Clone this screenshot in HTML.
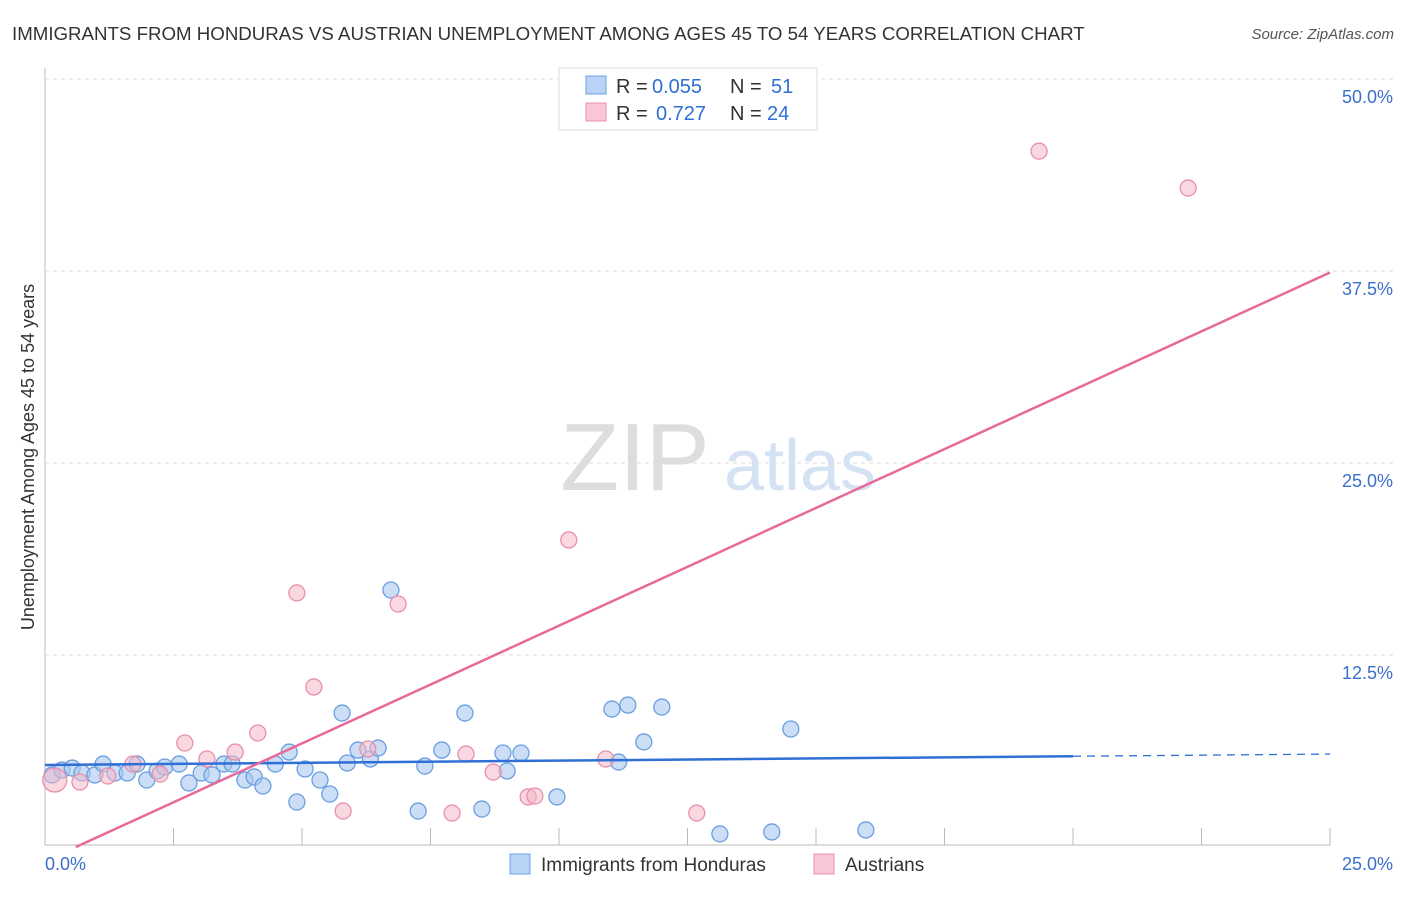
<!DOCTYPE html>
<html><head><meta charset="utf-8"><style>
body{margin:0;background:#fff;font-family:"Liberation Sans",sans-serif;}
svg text{font-family:"Liberation Sans",sans-serif;}
</style></head><body>
<svg id="chart" width="1406" height="892" xmlns="http://www.w3.org/2000/svg">
<text x="12" y="40" font-size="18.7" fill="#333">IMMIGRANTS FROM HONDURAS VS AUSTRIAN UNEMPLOYMENT AMONG AGES 45 TO 54 YEARS CORRELATION CHART</text>
<text x="1394" y="39" font-size="15" fill="#555" font-style="italic" text-anchor="end">Source: ZipAtlas.com</text>
<g id="grid"></g>
<text x="635" y="490" font-size="96" fill="#ddd" font-family="Liberation Serif" text-anchor="middle">ZIP</text>
<text x="800" y="490" font-size="72" fill="#d4e2f4" text-anchor="middle">atlas</text>
<text transform="translate(34,457) rotate(-90)" font-size="18" fill="#333" text-anchor="middle">Unemployment Among Ages 45 to 54 years</text>
<g id="marks"></g>
<g>
<rect x="559" y="68" width="258" height="62" fill="#fff" stroke="#ddd"/>
<rect x="586" y="76" width="20" height="18" fill="#b8d3f5" stroke="#6a9fe0"/>
<text x="616" y="93" font-size="20" fill="#333">R =</text>
<text x="652" y="93" font-size="20" fill="#2f6fd6">0.055</text>
<text x="730" y="93" font-size="20" fill="#333">N =</text>
<text x="771" y="93" font-size="20" fill="#2f6fd6">51</text>
<rect x="586" y="103" width="20" height="18" fill="#f9c6d5" stroke="#e890a8"/>
<text x="616" y="120" font-size="20" fill="#333">R =</text>
<text x="656" y="120" font-size="20" fill="#2f6fd6">0.727</text>
<text x="730" y="120" font-size="20" fill="#333">N =</text>
<text x="767" y="120" font-size="20" fill="#2f6fd6">24</text>
</g>
<g>
<rect x="510" y="854" width="20" height="20" fill="#b8d3f5" stroke="#6a9fe0"/>
<text x="541" y="871" font-size="19" fill="#333">Immigrants from Honduras</text>
<rect x="814" y="854" width="20" height="20" fill="#f9c6d5" stroke="#e890a8"/>
<text x="845" y="871" font-size="19" fill="#333">Austrians</text>
</g>
</svg>
<script>
const yTicks=[12.5,25,37.5,50];
const xTickLabels=["0.0%","25.0%"];
const blueX=[0.14,0.33,0.53,0.72,0.97,1.13,1.36,1.6,1.79,1.98,2.18,2.33,2.61,2.8,3.04,3.25,3.48,3.64,3.89,4.07,4.24,4.48,4.75,4.9,5.06,5.35,5.54,5.78,5.88,6.09,6.33,6.48,6.73,7.26,7.39,7.72,8.17,8.5,8.91,8.99,9.26,9.96,11.03,11.16,11.34,11.65,12.0,13.13,14.14,14.51,15.97];
const blueY=[4.69,5.01,5.14,4.82,4.69,5.4,4.82,4.82,5.4,4.36,4.95,5.21,5.4,4.17,4.82,4.69,5.4,5.4,4.36,4.56,3.97,5.4,6.18,2.93,5.08,4.36,3.45,8.72,5.47,6.31,5.73,6.44,16.73,2.34,5.27,6.31,8.72,2.47,6.12,4.95,6.12,3.26,8.98,5.53,9.24,6.84,9.11,0.85,0.98,7.68,1.11];
const pinkX=[0.19,0.68,1.22,1.71,2.24,2.72,3.15,3.7,4.14,4.9,5.23,5.8,6.28,6.87,7.92,8.19,8.72,9.4,9.53,10.19,10.91,12.68,19.34,22.24];
const pinkY=[4.36,4.23,4.62,5.4,4.75,6.77,5.73,6.18,7.42,16.54,10.42,2.34,6.38,15.82,2.21,6.05,4.88,3.26,3.32,19.99,5.73,2.21,45.3,42.9];
const blueFit=[5.34,0.0284];
const pinkFit=[-0.92,1.533];
const x=v=>45+v/25*1285, y=v=>847-v/12.5*192;
const NS="http://www.w3.org/2000/svg";
const svg=document.getElementById('chart'),grid=document.getElementById('grid'),marks=document.getElementById('marks');
function mk(t,a,p){const e=document.createElementNS(NS,t);for(const k in a)e.setAttribute(k,a[k]);(p||svg).appendChild(e);return e;}
let e=mk('line',{x1:45,y1:845,x2:1330,y2:845,stroke:'#bbb'},grid);


e=mk('line',{x1:45,y1:68,x2:45,y2:845,stroke:'#bbb'},grid);


for(let i=0;i<=10;i++){e=mk('line',{x1:x(i*2.5),y1:828,x2:x(i*2.5),y2:845,stroke:'#bbb'},grid);

}
yTicks.forEach(t=>{e=mk('line',{x1:45,x2:1395,y1:y(t),y2:y(t),stroke:'#ddd','stroke-dasharray':'4,4'},grid);


e=mk('text',{x:1393,y:y(t)+24,'font-size':18,fill:'#3a70cc','text-anchor':'end'},grid);e.textContent=t.toFixed(1)+'%';

});
xTickLabels.forEach((l,i)=>{e=mk('text',{x:i?1393:45,y:870,'font-size':18,fill:'#3a70cc','text-anchor':i?'end':'start'},grid);e.textContent=l;

});
blueX.forEach((v,i)=>{e=mk('circle',{cx:x(v),cy:y(blueY[i]),r:8,fill:'rgba(169,200,240,0.6)',stroke:'#6a9fe0','stroke-width':1.3},marks);

});
pinkX.forEach((v,i)=>{e=mk('circle',{cx:x(v),cy:y(pinkY[i]),r:i==0?12:8,fill:'rgba(244,184,203,0.55)',stroke:'#e890a8','stroke-width':1.3},marks);

});
e=mk('line',{x1:x(0),y1:y(blueFit[0]),x2:x(20),y2:y(blueFit[0]+blueFit[1]*20),stroke:'#2f6fd6','stroke-width':2.5},marks);


e=mk('line',{x1:x(20),y1:y(blueFit[0]+blueFit[1]*20),x2:x(25),y2:y(blueFit[0]+blueFit[1]*25),stroke:'#2f6fd6','stroke-width':1.3,'stroke-dasharray':'8,6'},marks);


const x0=-pinkFit[0]/pinkFit[1];
e=mk('line',{x1:x(x0),y1:y(0),x2:x(25),y2:y(pinkFit[0]+pinkFit[1]*25),stroke:'#e8699a','stroke-width':2.5},marks);


</script>
</body></html>
